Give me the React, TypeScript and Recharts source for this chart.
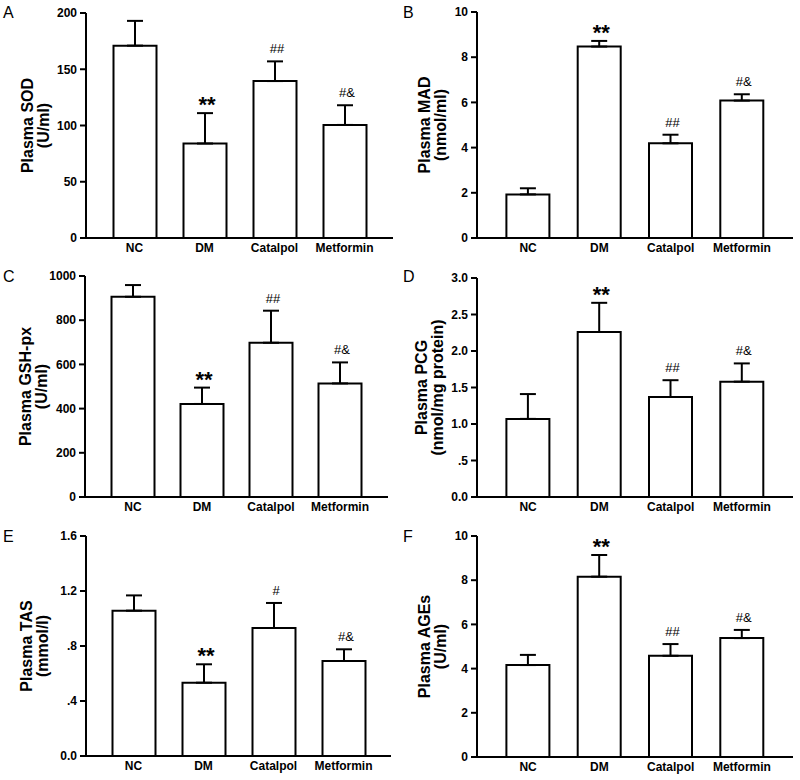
import React from 'react';
import { BarChart, Bar, XAxis, YAxis, ErrorBar, LabelList } from 'recharts';

const FONT = '"Liberation Sans", Arial, Helvetica, sans-serif';

const groups = ['NC', 'DM', 'Catalpol', 'Metformin'];

// A: SOD
const sodMean = [171, 84, 139.5, 100.5];
const sodSd = [22, 27, 17.5, 17.5];
const sodTicks = [0, 50, 100, 150, 200];
// B: MAD
const madMean = [1.93, 8.47, 4.19, 6.08];
const madSd = [0.27, 0.25, 0.38, 0.28];
const madTicks = [0, 2, 4, 6, 8, 10];
// C: GSH-px
const gshMean = [906, 421, 698, 514];
const gshSd = [53, 74, 145, 95];
const gshTicks = [0, 200, 400, 600, 800, 1000];
// D: PCG
const pcgMean = [1.07, 2.26, 1.37, 1.58];
const pcgSd = [0.34, 0.4, 0.23, 0.25];
const pcgTicks = [0, 0.5, 1, 1.5, 2, 2.5, 3];
const pcgTickLabels = ['0.0', '.5', '1.0', '1.5', '2.0', '2.5', '3.0'];
// E: TAS
const tasMean = [1.057, 0.533, 0.931, 0.691];
const tasSd = [0.111, 0.134, 0.182, 0.085];
const tasTicks = [0, 0.4, 0.8, 1.2, 1.6];
const tasTickLabels = ['0.0', '.4', '.8', '1.2', '1.6'];
// F: AGEs
const agesMean = [4.16, 8.16, 4.58, 5.38];
const agesSd = [0.46, 0.98, 0.53, 0.37];
const agesTicks = [0, 2, 4, 6, 8, 10];

const marks = ['', '**', '##', '#&'];
const tasMarks = ['', '**', '#', '#&'];

const panels = [
  { letter: 'A', title: ['Plasma SOD', '(U/ml)'], mean: sodMean, sd: sodSd, marks, ticks: sodTicks, tickLabels: null,
    col: 0, row: 0, axisX: 86, right: 393, top: 13, bottom: 238, step: 70, t1: 33, t2: 49, letterY: 18 },
  { letter: 'B', title: ['Plasma MAD', '(nmol/ml)'], mean: madMean, sd: madSd, marks, ticks: madTicks, tickLabels: null,
    col: 1, row: 0, axisX: 77, right: 393, top: 12, bottom: 238, step: 71.3, t1: 30, t2: 46, letterY: 18 },
  { letter: 'C', title: ['Plasma GSH-px', '(U/ml)'], mean: gshMean, sd: gshSd, marks, ticks: gshTicks, tickLabels: null,
    col: 0, row: 1, axisX: 85, right: 388, top: 16, bottom: 237, step: 69, t1: 31, t2: 47, letterY: 22 },
  { letter: 'D', title: ['Plasma PCG', '(nmol/mg protein)'], mean: pcgMean, sd: pcgSd, marks, ticks: pcgTicks, tickLabels: pcgTickLabels,
    col: 1, row: 1, axisX: 77, right: 393, top: 18, bottom: 237, step: 71.3, t1: 27, t2: 43, letterY: 22 },
  { letter: 'E', title: ['Plasma TAS', '(mmol/l)'], mean: tasMean, sd: tasSd, marks: tasMarks, ticks: tasTicks, tickLabels: tasTickLabels,
    col: 0, row: 2, axisX: 86, right: 391, top: 16, bottom: 236, step: 70, t1: 32, t2: 48, letterY: 22 },
  { letter: 'F', title: ['Plasma AGEs', '(U/ml)'], mean: agesMean, sd: agesSd, marks, ticks: agesTicks, tickLabels: null,
    col: 1, row: 2, axisX: 77, right: 393, top: 16, bottom: 237, step: 71.3, t1: 30, t2: 46, letterY: 22 },
];

type PanelDef = typeof panels[number];

const axisStyle = { stroke: '#000', strokeWidth: 2 };
const tickStyle = { fill: '#000', fontSize: 12, fontWeight: 'bold', fontFamily: FONT };

function Panel({ p }: { p: PanelDef }) {
  const data = groups.map((g, i) => ({ group: g, mean: p.mean[i], err: [0, p.sd[i]], mark: p.marks[i] }));
  const xAxisH = 20;
  const pad = (p.right - p.axisX - 4 * p.step) / 2;
  const max = p.ticks[p.ticks.length - 1];
  const midY = (p.top + p.bottom) / 2;

  const renderTitle = () => (
    <g fontFamily={FONT} fill="#000">
      <text x={3} y={p.letterY} fontSize={16}>{p.letter}</text>
      <text x={p.t1} y={midY} transform={`rotate(-90 ${p.t1} ${midY})`} textAnchor="middle" fontSize={16} fontWeight="bold">
        {p.title[0]}
      </text>
      <text x={p.t2} y={midY} transform={`rotate(-90 ${p.t2} ${midY})`} textAnchor="middle" fontSize={16} fontWeight="bold">
        {p.title[1]}
      </text>
    </g>
  );

  // significance marks sit just above the error bar tip
  const renderMark = (props: any) => {
    const { value, index } = props;
    if (!value) return null;
    const x = Number(props.x ?? props.viewBox?.x);
    const y = Number(props.y ?? props.viewBox?.y);
    const width = Number(props.width ?? props.viewBox?.width);
    const height = Number(props.height ?? props.viewBox?.height);
    const errTop = y - p.sd[index] * (height / p.mean[index]);
    const star = value === '**';
    return (
      <text
        x={x + width / 2 + 2}
        y={star ? errTop - 1 : errTop - 8}
        textAnchor="middle"
        fontSize={star ? 22 : 13}
        fontWeight={star ? 'bold' : 'normal'}
        fontFamily={FONT}
        fill="#000"
      >
        {value}
      </text>
    );
  };

  return (
    <div style={{ position: 'absolute', left: p.col * 400, top: p.row * 260, width: 400, height: 260 }}>
      <BarChart
        width={400}
        height={260}
        data={data}
        margin={{ top: p.top, right: 400 - p.right, bottom: 260 - p.bottom - xAxisH, left: 0 }}
      >
        <XAxis
          dataKey="group"
          height={xAxisH}
          padding={{ left: pad, right: pad }}
          interval={0}
          tickLine={false}
          tickSize={0}
          tickMargin={5}
          axisLine={axisStyle}
          tick={tickStyle}
        />
        <YAxis
          width={p.axisX}
          domain={[0, max]}
          ticks={p.ticks}
          interval={0}
          tickSize={6}
          tickMargin={3}
          axisLine={axisStyle}
          tickLine={axisStyle}
          tick={tickStyle}
          tickFormatter={(v: number) => (p.tickLabels ? p.tickLabels[p.ticks.indexOf(v)] : String(v))}
          label={{ content: renderTitle }}
        />
        <Bar dataKey="mean" fill="#fff" stroke="#000" strokeWidth={2} barSize={43} isAnimationActive={false}>
          <ErrorBar dataKey="err" direction="y" width={8} stroke="#000" strokeWidth={2} isAnimationActive={false} />
          <LabelList dataKey="mark" content={renderMark} />
        </Bar>
      </BarChart>
    </div>
  );
}

export default function App() {
  return (
    <div style={{ position: 'absolute', left: 0, top: 0, width: 800, height: 780, background: '#fff' }}>
      {panels.map((p) => (
        <Panel key={p.letter} p={p} />
      ))}
    </div>
  );
}
